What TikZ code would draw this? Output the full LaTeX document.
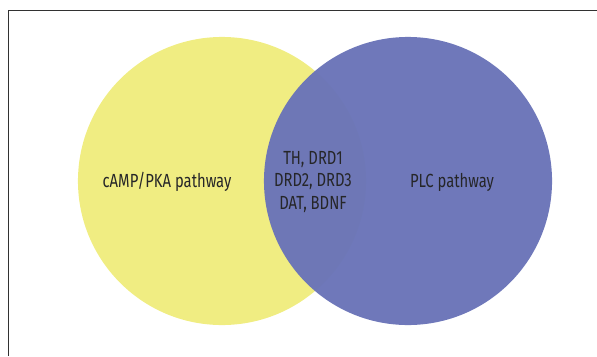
\documentclass[tikz,border=0pt]{standalone}
\usepackage{fontspec}
\setmainfont[FakeStretch=0.78]{Fira Sans}
\usepackage{xcolor}
\usepackage{tikz}
\usetikzlibrary{positioning}
\definecolor{campyellow}{RGB}{240,237,130}
\definecolor{plcblue}{RGB}{106,116,184}
\definecolor{inktext}{RGB}{38,38,40}
\definecolor{framegray}{RGB}{50,50,50}

\begin{document}
\begin{tikzpicture}[x=0.025cm, y=-0.025cm, every node/.style={font=\fontsize{13.5}{16.2}\selectfont, text=inktext}]
  \useasboundingbox (0,0) rectangle (597,356);
  \draw[framegray, line width=0.7pt] (8,356) -- (8,10) -- (597,10);
  \node[circle, fill=campyellow, inner sep=0pt, minimum size=7.2cm] (camp) at (222,181) {};
  \node[circle, fill=plcblue, fill opacity=0.97, inner sep=0pt, minimum size=7.2cm] (plc) at (408,181) {};
  \node (camplbl) at (167,182) {cAMP/PKA pathway};
  \node (plclbl) at (452,182) {PLC pathway};
  \node[align=center] (shared) at (313,182) {TH, DRD1\\DRD2, DRD3\\DAT, BDNF};
\end{tikzpicture}
\end{document}
